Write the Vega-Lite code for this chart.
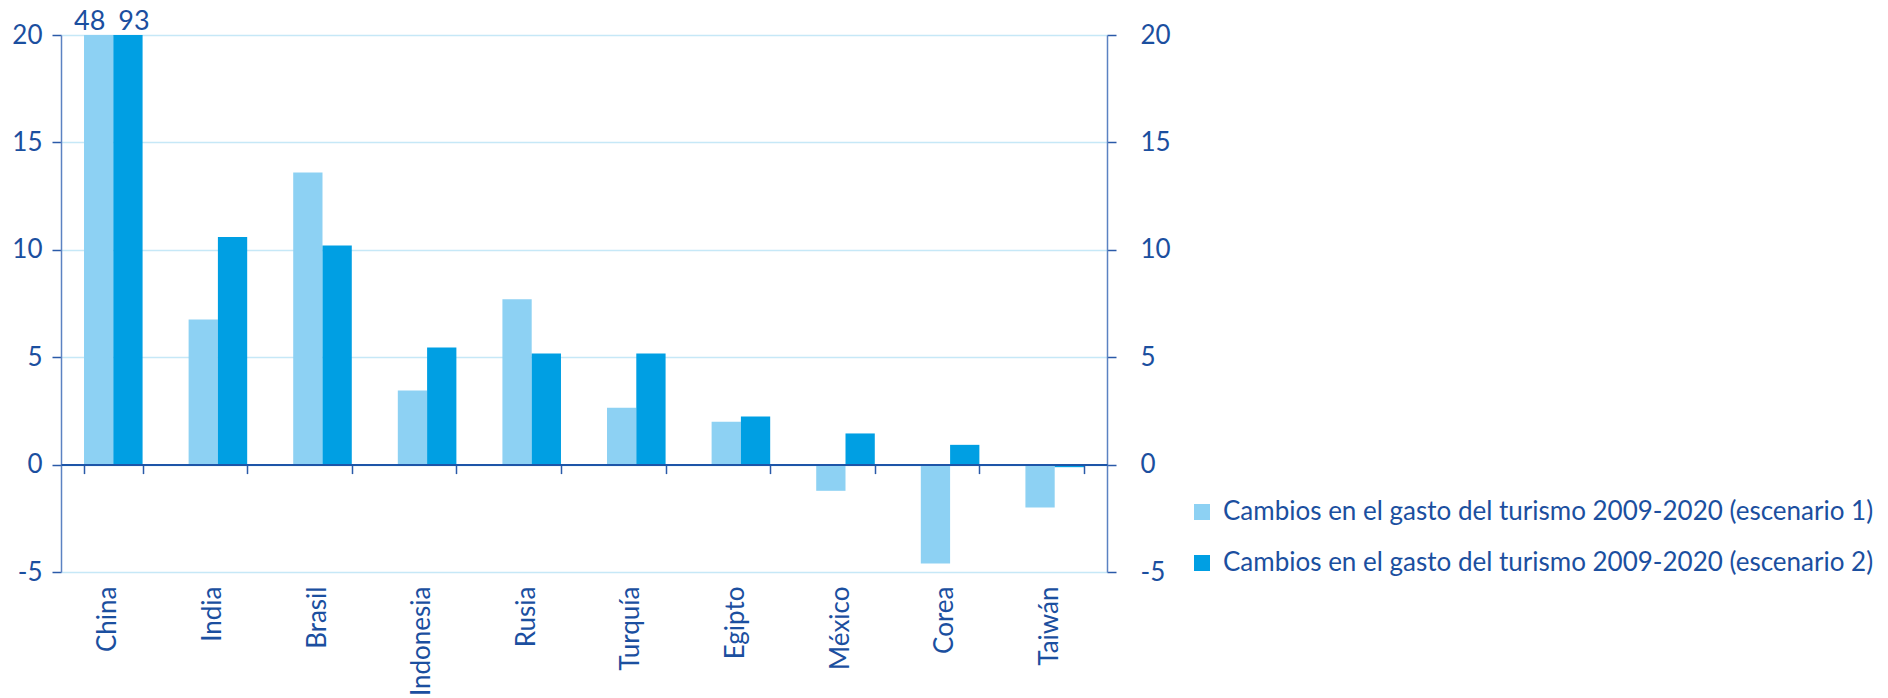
{
  "$schema": "https://vega.github.io/schema/vega-lite/v6.json",
  "width": 1046,
  "height": 537,
  "autosize": "none",
  "padding": {"left": 61, "top": 35, "right": 781, "bottom": 126},
  "background": "white",
  "config": {"view": {"stroke": null}, "font": "Lato"},
  "data": {"values": [
    {"pais": "China", "serie": "Cambios en el gasto del turismo 2009-2020 (escenario 1)", "valor": 48},
    {"pais": "China", "serie": "Cambios en el gasto del turismo 2009-2020 (escenario 2)", "valor": 93},
    {"pais": "India", "serie": "Cambios en el gasto del turismo 2009-2020 (escenario 1)", "valor": 6.75},
    {"pais": "India", "serie": "Cambios en el gasto del turismo 2009-2020 (escenario 2)", "valor": 10.6},
    {"pais": "Brasil", "serie": "Cambios en el gasto del turismo 2009-2020 (escenario 1)", "valor": 13.6},
    {"pais": "Brasil", "serie": "Cambios en el gasto del turismo 2009-2020 (escenario 2)", "valor": 10.2},
    {"pais": "Indonesia", "serie": "Cambios en el gasto del turismo 2009-2020 (escenario 1)", "valor": 3.45},
    {"pais": "Indonesia", "serie": "Cambios en el gasto del turismo 2009-2020 (escenario 2)", "valor": 5.45},
    {"pais": "Rusia", "serie": "Cambios en el gasto del turismo 2009-2020 (escenario 1)", "valor": 7.7},
    {"pais": "Rusia", "serie": "Cambios en el gasto del turismo 2009-2020 (escenario 2)", "valor": 5.17},
    {"pais": "Turquía", "serie": "Cambios en el gasto del turismo 2009-2020 (escenario 1)", "valor": 2.65},
    {"pais": "Turquía", "serie": "Cambios en el gasto del turismo 2009-2020 (escenario 2)", "valor": 5.17},
    {"pais": "Egipto", "serie": "Cambios en el gasto del turismo 2009-2020 (escenario 1)", "valor": 2.0},
    {"pais": "Egipto", "serie": "Cambios en el gasto del turismo 2009-2020 (escenario 2)", "valor": 2.24},
    {"pais": "México", "serie": "Cambios en el gasto del turismo 2009-2020 (escenario 1)", "valor": -1.22},
    {"pais": "México", "serie": "Cambios en el gasto del turismo 2009-2020 (escenario 2)", "valor": 1.45},
    {"pais": "Corea", "serie": "Cambios en el gasto del turismo 2009-2020 (escenario 1)", "valor": -4.6},
    {"pais": "Corea", "serie": "Cambios en el gasto del turismo 2009-2020 (escenario 2)", "valor": 0.92},
    {"pais": "Taiwán", "serie": "Cambios en el gasto del turismo 2009-2020 (escenario 1)", "valor": -2.0},
    {"pais": "Taiwán", "serie": "Cambios en el gasto del turismo 2009-2020 (escenario 2)", "valor": -0.12}
  ]},
  "layer": [
    {
      "mark": {"type": "bar"},
      "encoding": {
        "x": {
          "field": "pais", "type": "nominal",
          "sort": ["China", "India", "Brasil", "Indonesia", "Rusia", "Turquía", "Egipto", "México", "Corea", "Taiwán"],
          "scale": {"paddingInner": 0.44, "paddingOuter": 0.22},
          "axis": {"orient": "bottom", "title": null, "domain": false, "ticks": false, "grid": false, "labelAngle": -90, "labelFontSize": 26, "labelColor": "#1b4f9f", "labelPadding": 14, "labelOffset": -5}
        },
        "xOffset": {"field": "serie", "type": "nominal"},
        "y": {
          "field": "valor", "type": "quantitative",
          "scale": {"domain": [-5, 20], "clamp": true, "nice": false},
          "axis": {"orient": "left", "title": null, "values": [-5, 0, 5, 10, 15, 20], "labelExpr": "'' + datum.value", "grid": true, "gridColor": "#c6e8f7", "gridWidth": 1.5, "domainColor": "#5b82c2", "domainWidth": 1.5, "tickColor": "#2a5aa8", "tickSize": 9, "tickWidth": 1.5, "labelFontSize": 26, "labelColor": "#1b4f9f", "labelPadding": 10}
        },
        "color": {
          "field": "serie", "type": "nominal",
          "scale": {"range": ["#8dd1f3", "#009fe3"]},
          "legend": {"orient": "none", "legendX": 1128, "legendY": 464, "title": null, "symbolType": "square", "symbolSize": 256, "symbolStrokeWidth": 0, "symbolOpacity": 1, "labelFontSize": 26, "labelColor": "#1b4f9f", "labelLimit": 800, "rowPadding": 25, "labelOffset": 8}
        }
      }
    },
    {
      "transform": [{"filter": "datum.valor > 20 && datum.serie == 'Cambios en el gasto del turismo 2009-2020 (escenario 2)'"}],
      "mark": {"type": "text", "baseline": "bottom", "dy": 1, "dx": 6, "fontSize": 27, "color": "#1b4f9f"},
      "encoding": {
        "x": {
          "field": "pais", "type": "nominal",
          "sort": ["China", "India", "Brasil", "Indonesia", "Rusia", "Turquía", "Egipto", "México", "Corea", "Taiwán"],
          "axis": {"orient": "bottom", "title": null, "offset": -107.4, "labels": false, "grid": false, "domain": true, "domainColor": "#1d55a8", "domainWidth": 2, "ticks": true, "tickBand": "extent", "tickSize": 9, "tickColor": "#2a5aa8", "tickWidth": 1.5, "zindex": 1}
        },
        "xOffset": {"field": "serie", "type": "nominal"},
        "y": {
          "field": "valor", "type": "quantitative",
          "axis": {"orient": "right", "title": null, "values": [-5, 0, 5, 10, 15, 20], "labelExpr": "'' + datum.value", "grid": false, "domainColor": "#5b82c2", "domainWidth": 1.5, "tickColor": "#2a5aa8", "tickSize": 9, "tickWidth": 1.5, "labelFontSize": 26, "labelColor": "#1b4f9f", "labelPadding": 24}
        },
        "text": {"field": "valor", "type": "quantitative"}
      }
    },
    {
      "transform": [{"filter": "datum.valor > 20 && datum.serie == 'Cambios en el gasto del turismo 2009-2020 (escenario 1)'"}],
      "mark": {"type": "text", "baseline": "bottom", "dy": 1, "dx": -9, "fontSize": 27, "color": "#1b4f9f"},
      "encoding": {
        "x": {
          "field": "pais", "type": "nominal",
          "sort": ["China", "India", "Brasil", "Indonesia", "Rusia", "Turquía", "Egipto", "México", "Corea", "Taiwán"],
          "axis": null
        },
        "xOffset": {"field": "serie", "type": "nominal", "scale": {"domain": ["Cambios en el gasto del turismo 2009-2020 (escenario 1)", "Cambios en el gasto del turismo 2009-2020 (escenario 2)"]}},
        "y": {"field": "valor", "type": "quantitative", "axis": null},
        "text": {"field": "valor", "type": "quantitative"}
      }
    }
  ],
  "resolve": {"axis": {"x": "independent", "y": "independent"}}
}
